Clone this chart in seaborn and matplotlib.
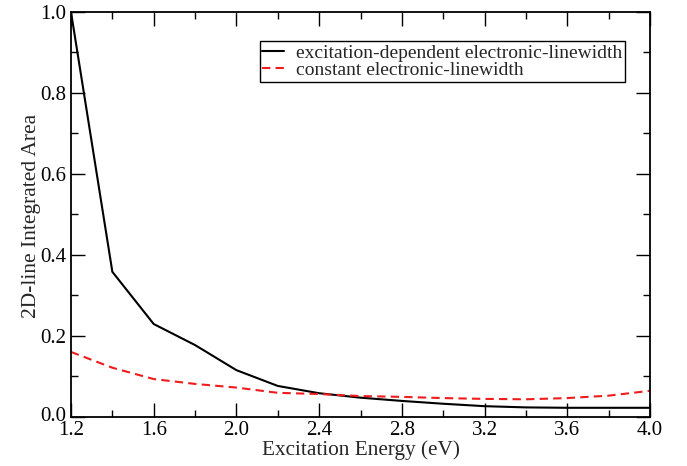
import numpy as np
import pandas as pd
import matplotlib
matplotlib.use("Agg")
import matplotlib.pyplot as plt
import matplotlib.transforms as mtransforms
import seaborn as sns
from matplotlib.ticker import MultipleLocator, FormatStrFormatter

energy = [1.2, 1.4, 1.6, 1.8, 2.0, 2.2, 2.4, 2.6, 2.8, 3.0, 3.2, 3.4, 3.6, 3.8, 4.0]
dependent = [1.0, 0.358, 0.229, 0.177, 0.115, 0.076, 0.058, 0.047, 0.039, 0.032, 0.026, 0.023, 0.022, 0.022, 0.022]
constant = [0.160, 0.121, 0.093, 0.081, 0.072, 0.059, 0.056, 0.051, 0.049, 0.046, 0.044, 0.043, 0.046, 0.052, 0.064]
labels = ["excitation-dependent electronic-linewidth", "constant electronic-linewidth"]

sns.set_theme(style="ticks")
plt.rcParams['font.family'] = ['Liberation Serif', 'DejaVu Serif']
plt.rcParams['mathtext.fontset'] = 'stix'

df = pd.DataFrame({
    "energy": energy * 2,
    "area": dependent + constant,
    "series": [labels[0]] * len(energy) + [labels[1]] * len(energy),
})

fig = plt.figure(figsize=(6.87, 4.66), dpi=100)
ax = fig.add_axes([71 / 687, 1 - 416.7 / 466, (650 - 71) / 687, (416.7 - 12) / 466])

sns.lineplot(data=df, x="energy", y="area", hue="series", style="series",
             palette={labels[0]: "black", labels[1]: "#ee1c1c"},
             dashes={labels[0]: "", labels[1]: (4, 2.5)},
             linewidth=1.5, ax=ax, legend=True)

ax.set_xlim(1.2, 4.0)
ax.set_ylim(0.0, 1.0)
ax.xaxis.set_major_locator(MultipleLocator(0.4))
ax.xaxis.set_minor_locator(MultipleLocator(0.2))
ax.yaxis.set_major_locator(MultipleLocator(0.2))
ax.yaxis.set_minor_locator(MultipleLocator(0.1))
ax.xaxis.set_major_formatter(FormatStrFormatter('%.1f'))
ax.yaxis.set_major_formatter(FormatStrFormatter('%.1f'))
ax.tick_params(which='both', direction='in', top=True, right=True, labelsize=15, width=1.0, colors='black')
ax.tick_params(which='major', length=10)
ax.tick_params(which='minor', length=5)
ax.tick_params(axis='x', which='major', pad=3)
ax.tick_params(axis='y', which='major', pad=3.5)
for s in ax.spines.values():
    s.set_linewidth(1.3)
    s.set_color('black')

# nudge the bottom y tick label ("0.0") up slightly, as in the reference
locs = ax.yaxis.get_majorticklocs()
ticks = ax.yaxis.get_major_ticks(len(locs))
for loc, tk in zip(locs, ticks):
    if abs(loc) < 1e-9:
        tk.label1.set_transform(tk.label1.get_transform() +
                                mtransforms.ScaledTranslation(0, 3 / 100, fig.dpi_scale_trans))

ax.set_xlabel("Excitation Energy (eV)", fontsize=15.3)
ax.set_ylabel("2D-line Integrated Area", fontsize=15.5)
ax.xaxis.set_label_coords(0.5, -0.058)
ax.yaxis.set_label_coords(-0.051, 0.495)

leg = ax.legend(loc='upper right', bbox_to_anchor=(0.957, 0.928), fontsize=14,
                frameon=True, fancybox=False, edgecolor='black', framealpha=1,
                handlelength=1.1, handletextpad=0.62, borderpad=0.15, labelspacing=-0.02,
                borderaxespad=0)
leg.get_frame().set_linewidth(1.0)

fig.savefig("out.png", dpi=100)
